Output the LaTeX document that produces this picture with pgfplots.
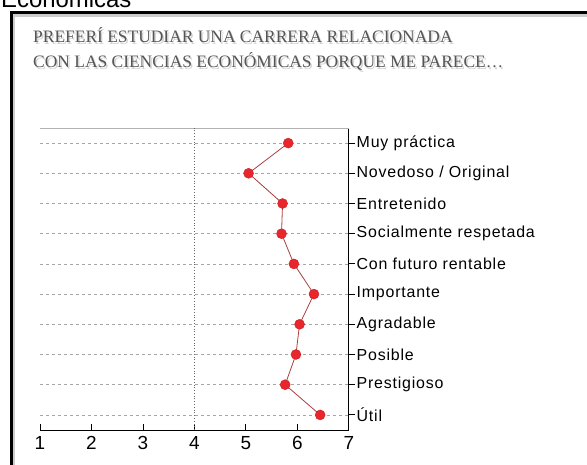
\documentclass[border=0pt]{standalone}
\usepackage{fontspec}
\setmainfont{Liberation Sans}
\newfontfamily\titlefont{Liberation Serif}
\newfontfamily\labfont[LetterSpace=5]{Liberation Sans}
\usepackage{pgfplots}
\pgfplotsset{compat=1.18}

\definecolor{dotred}{HTML}{E8262B}
\definecolor{linered}{HTML}{A8403F}
\definecolor{titlegray}{HTML}{555555}

\begin{document}
\begin{tikzpicture}
\useasboundingbox (0,0) rectangle (587bp,465bp);

% cut-off heading above the frame
\node[anchor=base west, inner sep=0pt, font=\fontsize{24}{26}\selectfont] at (1bp,457bp) {Económicas};

% frame (runs off the page on the right and bottom)
\draw[gray!40, line width=3bp] (13.5bp,-10bp) -- (13.5bp,449.5bp) -- (600bp,449.5bp);
\draw[black, line width=3bp] (11bp,-10bp) -- (11bp,452bp) -- (600bp,452bp);

% title
\foreach \dx/\dy/\c in {1.5/-1.5/gray!35, 0/0/titlegray}{
  \node[anchor=base west, inner sep=0pt, text=\c, font=\titlefont\fontsize{17.5}{19}\selectfont] at (33bp+\dx bp,422bp+\dy bp) {PREFERÍ ESTUDIAR UNA CARRERA RELACIONADA};
  \node[anchor=base west, inner sep=0pt, text=\c, font=\titlefont\fontsize{17.5}{19}\selectfont] at (33bp+\dx bp,397bp+\dy bp) {CON LAS CIENCIAS ECONÓMICAS PORQUE ME PARECE\ldots};
}

\begin{axis}[
    at={(40bp,35bp)},
    anchor=south west,
    scale only axis,
    width=309bp,
    height=302bp,
    xmin=1, xmax=7,
    ymin=0.5, ymax=10.5,
    axis x line*=bottom,
    axis y line*=right,
    axis line style={-, black, line width=1bp},
    xtick={1,...,7},
    ytick={1,...,10},
    yticklabels={Útil, Prestigioso, Posible, Agradable, Importante, Con futuro rentable, Socialmente respetada, Entretenido, Novedoso / Original, Muy práctica},
    xtick align=inside,
    ytick align=outside,
    major tick length=6bp,
    tick style={black, line width=1bp},
    ymajorgrids,
    major grid style={gray!70, dashed, line width=0.5bp},
    xticklabel style={font=\fontsize{19}{21}\selectfont, inner sep=0pt, yshift=-6bp},
    yticklabel style={font=\labfont\fontsize{16}{18}\selectfont, anchor=west, inner sep=1.5bp},
    /pgf/number format/assume math mode=true,
    clip=false,
]
\draw[gray!60, line width=0.8bp] (rel axis cs:0,1) -- (rel axis cs:1,1);
\draw[black!60, dotted, line width=0.8bp] (axis cs:4,0.5) -- (axis cs:4,10.5);

\addplot[
    color=linered,
    line width=0.8bp,
    mark=*,
    mark size=5bp,
    mark options={fill=dotred, draw=dotred!85!black, line width=0.4bp},
    ]
    coordinates {
    (6.44,1)(5.76,2)(5.97,3)(6.04,4)(6.32,5)(5.93,6)(5.69,7)(5.71,8)(5.05,9)(5.82,10)
    };
\end{axis}
\end{tikzpicture}
\end{document}
